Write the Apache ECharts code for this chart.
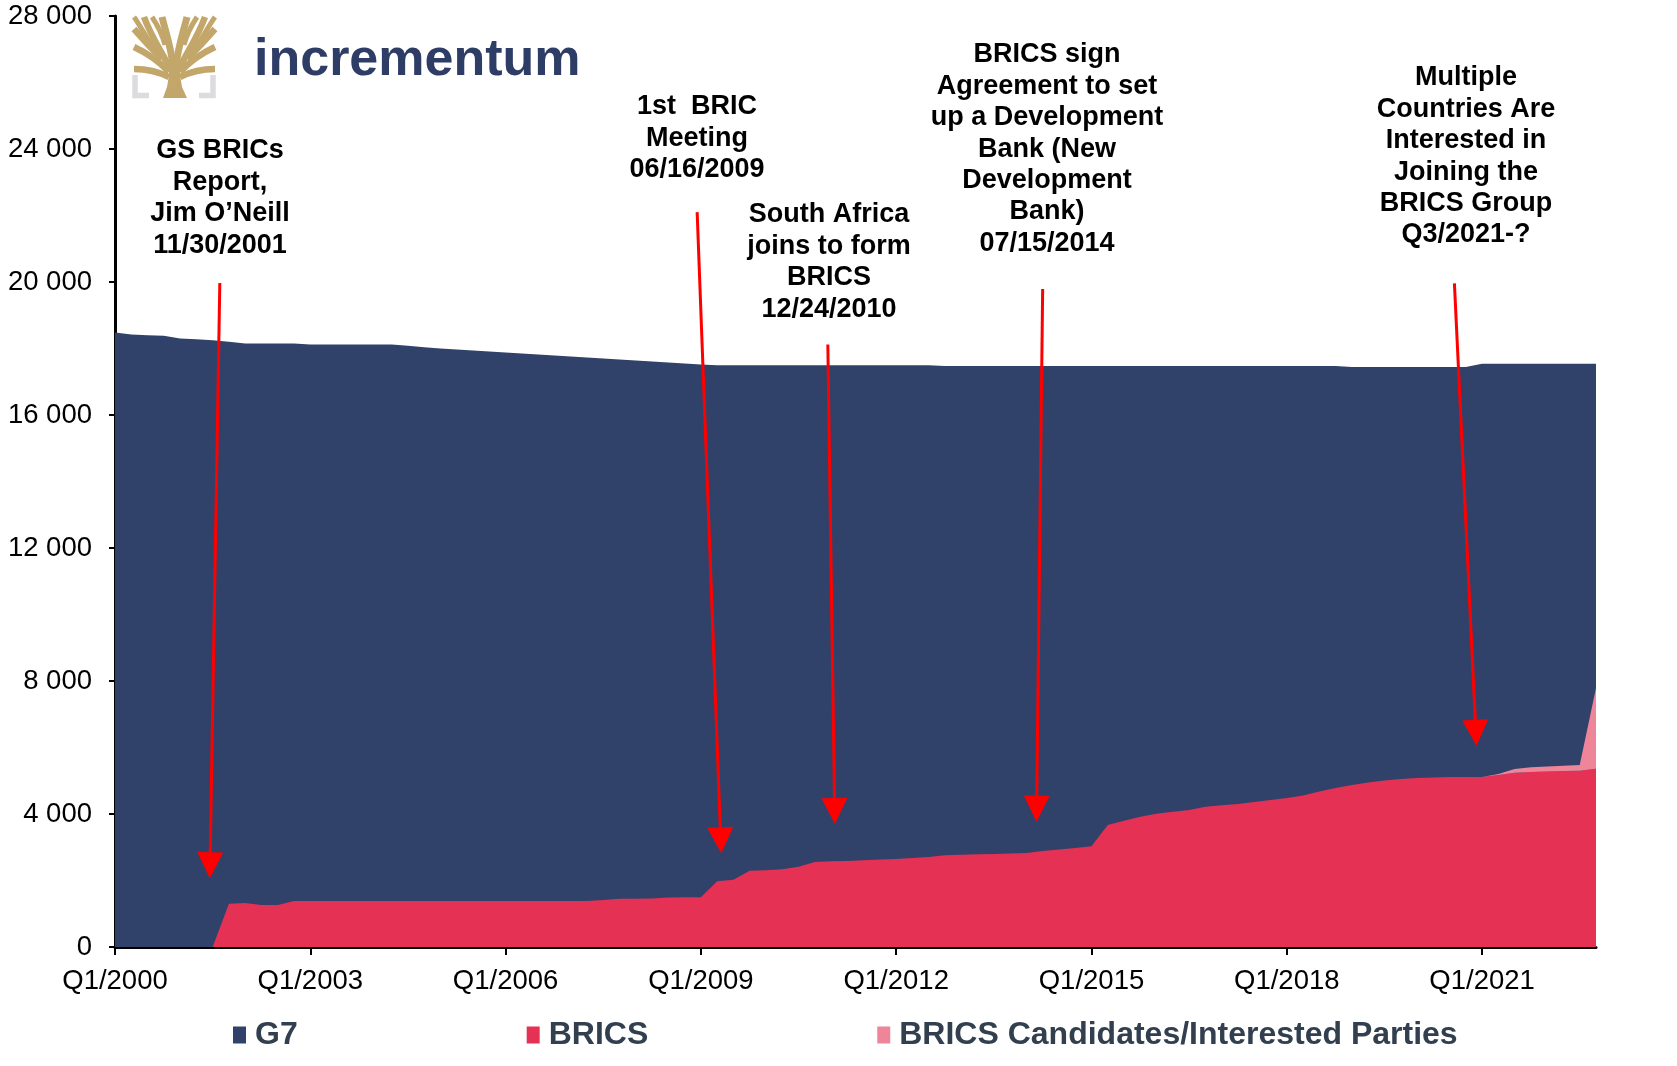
<!DOCTYPE html>
<html>
<head>
<meta charset="utf-8">
<title>G7 vs BRICS</title>
<script src="https://cdn.jsdelivr.net/npm/echarts@6/dist/echarts.min.js"></script>
<style>
html, body { margin: 0; padding: 0; background: #fff; }
#chart { width: 1677px; height: 1066px; }
</style>
</head>
<body>
<div id="chart"></div>
<script>
// one category per quarter, Q1/2000 .. Q4/2022
var years = [2000, 2001, 2002, 2003, 2004, 2005, 2006, 2007, 2008, 2009, 2010, 2011,
             2012, 2013, 2014, 2015, 2016, 2017, 2018, 2019, 2020, 2021, 2022];
var quarters = [];
years.forEach(function (y) {
    for (var q = 1; q <= 4; q++) quarters.push('Q' + q + '/' + y);
});

// top of the dark area
var g7 = [
    18480, 18420, 18400, 18380, 18300, 18280, 18250, 18200, 18150, 18150, 18150, 18150,
    18120, 18120, 18120, 18120, 18120, 18120, 18080, 18040, 18000, 17970, 17940, 17910,
    17880, 17850, 17820, 17790, 17760, 17730, 17700, 17670, 17640, 17610, 17580, 17550,
    17520, 17500, 17500, 17500, 17500, 17500, 17500, 17500, 17500, 17500, 17500, 17500,
    17500, 17500, 17500, 17470, 17470, 17470, 17470, 17470, 17470, 17470, 17470, 17470,
    17470, 17470, 17470, 17470, 17470, 17470, 17470, 17470, 17470, 17470, 17470, 17470,
    17470, 17470, 17470, 17470, 17440, 17440, 17440, 17440, 17440, 17440, 17440, 17440,
    17540, 17540, 17540, 17540, 17540, 17540, 17540, 17540
];

var brics = [
    0, 0, 0, 0, 0, 0, 0, 1300, 1320, 1260, 1260, 1380,
    1380, 1380, 1380, 1380, 1380, 1380, 1380, 1380, 1380, 1380, 1380, 1380,
    1380, 1380, 1380, 1380, 1380, 1380, 1410, 1450, 1450, 1460, 1490, 1500,
    1500, 1980, 2020, 2290, 2310, 2340, 2410, 2560, 2580, 2590, 2610, 2630,
    2650, 2680, 2710, 2760, 2775, 2790, 2800, 2815, 2830, 2890, 2930, 2980,
    3030, 3670, 3800, 3920, 4010, 4070, 4120, 4220, 4260, 4300, 4360, 4420,
    4480, 4560, 4680, 4780, 4870, 4950, 5010, 5050, 5080, 5100, 5110, 5110,
    5110, 5170, 5240, 5265, 5280, 5290, 5300, 5360
];

var candidates = [
    0, 0, 0, 0, 0, 0, 0, 0, 0, 0, 0, 0,
    0, 0, 0, 0, 0, 0, 0, 0, 0, 0, 0, 0,
    0, 0, 0, 0, 0, 0, 0, 0, 0, 0, 0, 0,
    0, 0, 0, 0, 0, 0, 0, 0, 0, 0, 0, 0,
    0, 0, 0, 0, 0, 0, 0, 0, 0, 0, 0, 0,
    0, 0, 0, 0, 0, 0, 0, 0, 0, 0, 0, 0,
    0, 0, 0, 0, 0, 0, 0, 0, 0, 0, 0, 0,
    0, 30, 110, 140, 150, 160, 170, 2430
];

var names = ['G7', 'BRICS', 'BRICS Candidates/Interested Parties'];

var notes = [
    ['GS BRICs', 'Report,', 'Jim O\u2019Neill', '11/30/2001'],
    ['1st  BRIC', 'Meeting', '06/16/2009'],
    ['South Africa', 'joins to form', 'BRICS', '12/24/2010'],
    ['BRICS sign', 'Agreement to set', 'up a Development', 'Bank (New', 'Development', 'Bank)', '07/15/2014'],
    ['Multiple', 'Countries Are', 'Interested in', 'Joining the', 'BRICS Group', 'Q3/2021-?']
];

var FONT = '"Liberation Sans", Arial, sans-serif';
var C_G7 = '#30426A';
var C_BRICS = '#E43154';
var C_CAND = '#EF8599';
var GOLD = '#C3A66A';

// arrows, in (quarter index, value)
var arrows = [
    [[6.44, 19970], [5.84, 2460]],
    [[35.77, 22100], [37.22, 3210]],
    [[43.8, 18120], [44.22, 4090]],
    [[57.0, 19790], [56.63, 4160]],
    [[82.3, 19960], [83.62, 6440]]
];
// centre x / first line y of each note
var notePos = [[220, 151], [697, 107], [829, 215], [1047, 55], [1466, 78]];

function spaced(v) {
    return String(v).replace(/\B(?=(\d{3})+(?!\d))/g, ' ');
}

function areaSeries(name, data, color, stack) {
    return {
        name: name,
        type: 'line',
        stack: stack,
        data: data,
        symbol: 'none',
        silent: true,
        lineStyle: { width: 0, opacity: 0 },
        itemStyle: { color: color },
        areaStyle: { color: color, opacity: 1 }
    };
}

function branch(x1, y1, c1x, c1y, c2x, c2y, x2, y2, w) {
    return {
        type: 'bezierCurve',
        shape: { x1: x1, y1: y1, cpx1: c1x, cpy1: c1y, cpx2: c2x, cpy2: c2y, x2: x2, y2: y2 },
        style: { stroke: GOLD, lineWidth: w || 6.5, fill: null }
    };
}

var graphics = [];

// logo
graphics.push({
    type: 'group',
    x: 132,
    y: 15,
    silent: true,
    children: [
        { type: 'polyline', shape: { points: [[3, 60], [3, 80.5], [17, 80.5]] },
          style: { stroke: '#DCDCDE', lineWidth: 5.5, fill: null } },
        { type: 'polyline', shape: { points: [[81, 60], [81, 80.5], [67, 80.5]] },
          style: { stroke: '#DCDCDE', lineWidth: 5.5, fill: null } },
        { type: 'polygon', shape: { points: [[31, 83], [55, 83], [50, 72], [48, 60], [48, 50], [37, 50], [37, 60], [35, 72]] },
          style: { fill: GOLD } },
        branch(41, 52, 40, 36, 34, 18, 30, 2, 7),
        branch(44, 52, 45, 36, 51, 18, 55, 2, 7),
        branch(38, 54, 32, 40, 20, 24, 12, 2),
        branch(47, 54, 53, 40, 65, 24, 73, 2),
        branch(37, 57, 27, 46, 15, 38, 2, 32),
        branch(48, 57, 58, 46, 70, 38, 83, 32),
        branch(37, 62, 27, 57, 13, 54, 2, 54),
        branch(48, 62, 58, 57, 72, 54, 83, 54),
        branch(30, 44, 20, 34, 9, 22, 2, 14),
        branch(55, 44, 65, 34, 76, 22, 83, 14),
        branch(33, 30, 30, 18, 24, 8, 20, 2, 5),
        branch(52, 30, 55, 18, 61, 8, 65, 2, 5),
        branch(25, 37, 17, 28, 8, 10, 2, 2, 5),
        branch(60, 37, 68, 28, 77, 10, 83, 2, 5)
    ]
});
graphics.push({
    type: 'text',
    x: 254,
    y: 61,
    silent: true,
    style: { text: 'incrementum', font: 'bold 52px ' + FONT, fill: '#2E3D66', textVerticalAlign: 'middle' }
});

// annotation texts
notes.forEach(function (lines, i) {
    lines.forEach(function (line, j) {
        graphics.push({
            type: 'text',
            x: notePos[i][0],
            y: notePos[i][1] + j * 31.4,
            silent: true,
            style: {
                text: line,
                font: 'bold 27px ' + FONT,
                fill: '#000',
                textAlign: 'center',
                textVerticalAlign: 'middle'
            }
        });
    });
});

var chart = echarts.init(document.getElementById('chart'));

var option = {
    animation: false,
    textStyle: { fontFamily: FONT },
    grid: { left: 115, right: 81, top: 16, bottom: 119, containLabel: false },
    legend: {
        data: names,
        left: 228,
        top: 1014,
        icon: 'rect',
        itemWidth: 13,
        itemHeight: 17,
        itemGap: 229,
        selectedMode: false,
        textStyle: { fontSize: 32, fontWeight: 'bold', color: '#323F4F', fontFamily: FONT, padding: [0, 0, 0, 4] }
    },
    xAxis: [{
        type: 'category',
        data: quarters,
        boundaryGap: false,
        axisLine: { show: true, lineStyle: { color: '#000', width: 3 } },
        axisTick: { show: true, interval: 11, length: 8, lineStyle: { color: '#000', width: 2 } },
        axisLabel: { interval: 11, color: '#000', fontSize: 27.5, margin: 20, fontFamily: FONT },
        splitLine: { show: false }
    }, {
        type: 'value',
        gridIndex: 0,
        min: 0,
        max: quarters.length - 1,
        show: false
    }],
    yAxis: {
        type: 'value',
        min: 0,
        max: 28000,
        interval: 4000,
        axisLine: { show: true, lineStyle: { color: '#000', width: 3 } },
        axisTick: { show: true, length: 6, lineStyle: { color: '#000', width: 2 } },
        axisLabel: { color: '#000', fontSize: 27.5, margin: 23, fontFamily: FONT, formatter: spaced },
        splitLine: { show: false }
    },
    series: [
        areaSeries(names[0], g7, C_G7, null),
        areaSeries(names[1], brics, C_BRICS, 'b'),
        areaSeries(names[2], candidates, C_CAND, 'b'),
        {
            name: 'notes',
            type: 'line',
            xAxisIndex: 1,
            data: [],
            markLine: {
                silent: true,
                animation: false,
                symbol: ['none', 'triangle'],
                symbolSize: 26,
                lineStyle: { color: '#FF0000', width: 3, type: 'solid' },
                label: { show: false },
                emphasis: { disabled: true },
                data: arrows.map(function (a) {
                    return [{ coord: a[0] }, { coord: a[1] }];
                })
            }
        }
    ],
    graphic: graphics
};

chart.setOption(option);
</script>
</body>
</html>
